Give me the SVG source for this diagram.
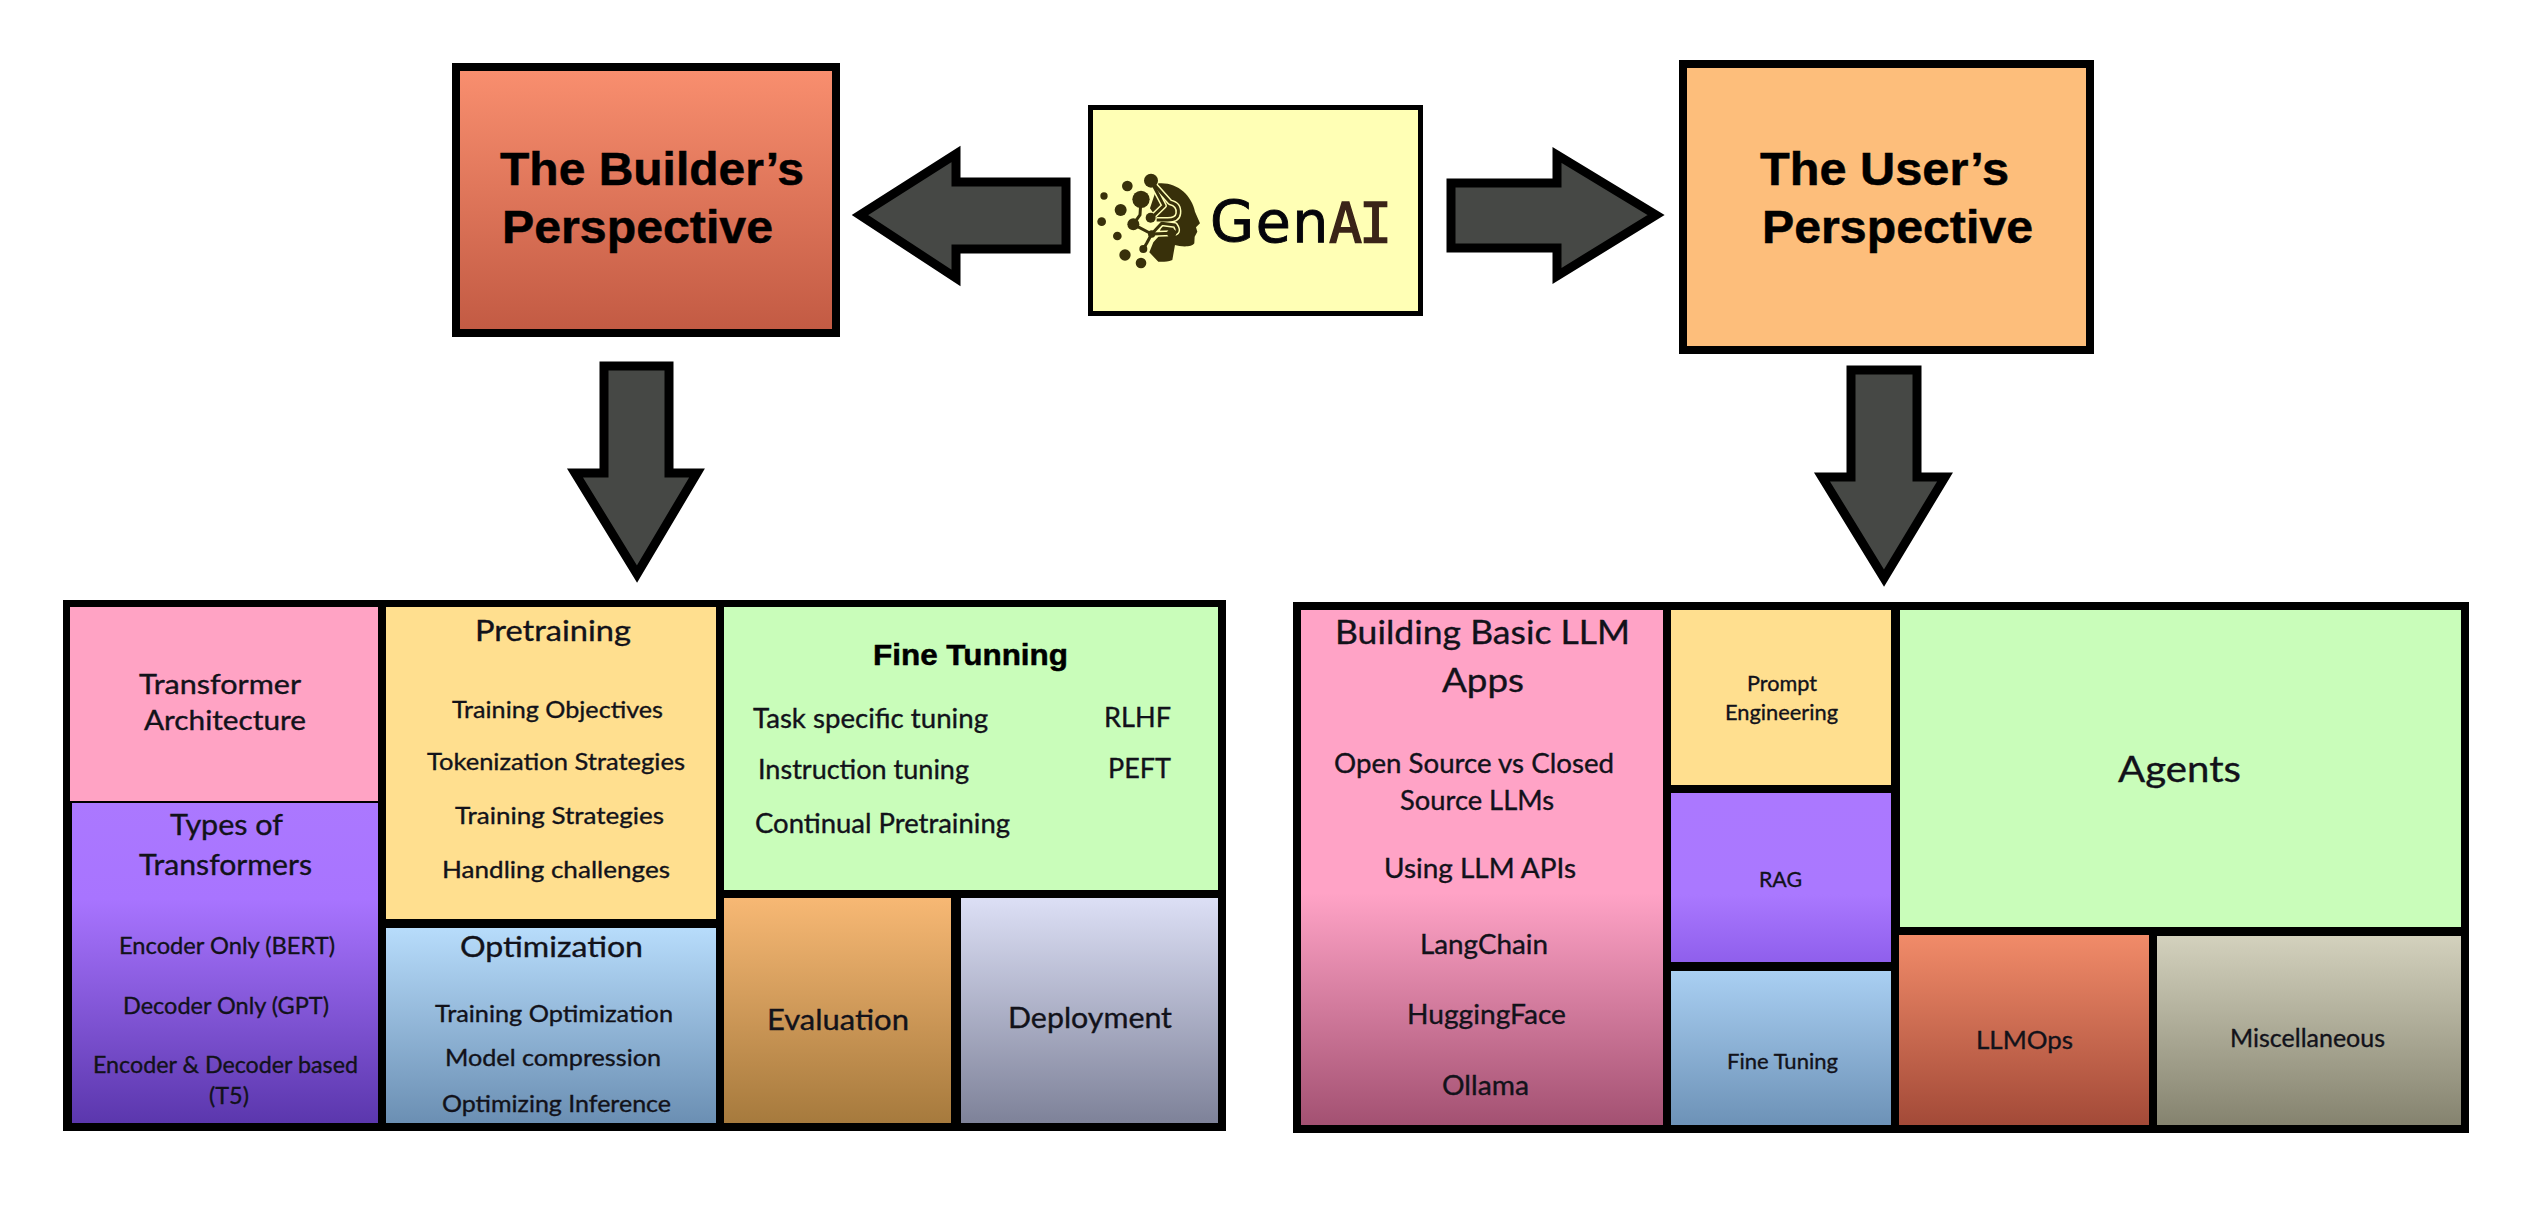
<svg xmlns="http://www.w3.org/2000/svg" width="2535" height="1205" viewBox="0 0 2535 1205">
<style>
text{font-family:"Lato","Noto Sans","Liberation Sans",sans-serif;fill:#12121a;stroke:#12121a;stroke-width:.35}
.b{font-family:"Liberation Sans","Arial",sans-serif;font-weight:700;fill:#000;stroke:#000;stroke-width:.5}
.t{font-size:47px}
.ar{fill:#464845;stroke:#000;stroke-width:9;stroke-linejoin:miter;stroke-miterlimit:4}
.s21{font-size:21px}.s23{font-size:23px}.s24{font-size:24px}.s25{font-size:25px}.s26{font-size:26px}.s27{font-size:27px}.s28{font-size:28px}.s33{font-size:33px}.s36{font-size:36px}
</style>
<defs>
<linearGradient id="gBuilder" x1="0" y1="0" x2="0" y2="1"><stop offset="0" stop-color="#f98f6f"/><stop offset="1" stop-color="#c25a43"/></linearGradient>
<linearGradient id="gTypes" x1="0" y1="0" x2="0" y2="1"><stop offset="0" stop-color="#ab78ff"/><stop offset=".3" stop-color="#a874ff"/><stop offset="1" stop-color="#5b37ad"/></linearGradient>
<linearGradient id="gOpt" x1="0" y1="0" x2="0" y2="1"><stop offset="0" stop-color="#b7dcfb"/><stop offset="1" stop-color="#6b8fb3"/></linearGradient>
<linearGradient id="gEval" x1="0" y1="0" x2="0" y2="1"><stop offset="0" stop-color="#f7b874"/><stop offset="1" stop-color="#a67a3d"/></linearGradient>
<linearGradient id="gDep" x1="0" y1="0" x2="0" y2="1"><stop offset="0" stop-color="#dcdff5"/><stop offset="1" stop-color="#7e8299"/></linearGradient>
<linearGradient id="gBuild" x1="0" y1="0" x2="0" y2="1"><stop offset="0" stop-color="#ffa3c6"/><stop offset=".55" stop-color="#ffa3c6"/><stop offset="1" stop-color="#a35172"/></linearGradient>
<linearGradient id="gRag" x1="0" y1="0" x2="0" y2="1"><stop offset="0" stop-color="#ab78ff"/><stop offset=".6" stop-color="#aa78ff"/><stop offset="1" stop-color="#8f5fec"/></linearGradient>
<linearGradient id="gFine" x1="0" y1="0" x2="0" y2="1"><stop offset="0" stop-color="#a9cff2"/><stop offset="1" stop-color="#6d92b7"/></linearGradient>
<linearGradient id="gOps" x1="0" y1="0" x2="0" y2="1"><stop offset="0" stop-color="#f18b69"/><stop offset="1" stop-color="#a34a38"/></linearGradient>
<linearGradient id="gMisc" x1="0" y1="0" x2="0" y2="1"><stop offset="0" stop-color="#d3d1bd"/><stop offset="1" stop-color="#85836f"/></linearGradient>
</defs>
<rect width="2535" height="1205" fill="#fff"/>

<g id="connectors">
<polygon class="ar" points="1066,182 956,182 956,154 860,215 956,278 956,249 1066,249"/>
<polygon class="ar" points="1451,183 1557,183 1557,155 1656,215 1557,276 1557,248 1451,248"/>
<polygon class="ar" points="604,366 669,366 669,473 697,473 637,574 575,473 604,473"/>
<polygon class="ar" points="1851,370 1917,370 1917,477 1945,477 1884,578 1822,477 1851,477"/>
</g>

<g id="builder">
<rect x="456" y="67" width="380" height="266" fill="url(#gBuilder)" stroke="#000" stroke-width="8"/>
<text class="b t" x="500" y="185" textLength="304" lengthAdjust="spacingAndGlyphs">The Builder’s</text>
<text class="b t" x="502" y="243" textLength="271" lengthAdjust="spacingAndGlyphs">Perspective</text>
</g>

<g id="genai">
<rect x="1090.500" y="107.500" width="330" height="206" fill="#ffffb5" stroke="#000" stroke-width="5"/>
<g transform="translate(1090 165) scale(.3333)">
<path fill="#38300a" d="M205,55C260,50 305,90 315,140L330,175L318,187L322,200L314,215L313,235C305,248 270,245 255,240L247,285C230,292 210,290 205,290L178,262L190,232L205,215L215,180L180,130Z"/>
<g fill="none" stroke="#ffffb5" stroke-width="18" stroke-linejoin="round">
<path d="M183,48L240,112Q268,118 265,145Q262,168 225,165L200,165"/>
<path d="M183,48L222,122L185,158"/>
<path d="M130,178L185,207L245,205"/>
<path d="M185,207L215,175L255,180Q272,205 245,205"/>
</g>
<g fill="none" stroke="#38300a" stroke-width="9" stroke-linejoin="round">
<path d="M183,48L240,112Q268,118 265,145Q262,168 225,165L200,165"/>
<path d="M183,48L222,122L185,158"/>
<path d="M153,103L150,150L130,178L185,207L245,205"/>
<path d="M185,207L170,235L160,252"/>
<path d="M185,207L215,175L255,180Q272,205 245,205"/>
</g>
<g fill="#38300a">
<circle cx="183" cy="47" r="21"/><circle cx="112" cy="63" r="16"/><circle cx="42" cy="93" r="11"/><circle cx="153" cy="103" r="26"/><circle cx="92" cy="135" r="18"/><circle cx="35" cy="170" r="13"/><circle cx="130" cy="178" r="18"/><circle cx="82" cy="213" r="13"/><circle cx="105" cy="270" r="17"/><circle cx="153" cy="294" r="16"/><circle cx="160" cy="252" r="12"/><circle cx="182" cy="158" r="15"/><circle cx="245" cy="205" r="14"/><circle cx="185" cy="207" r="11"/>
</g>
</g>
<text x="1210" y="242" font-size="57" letter-spacing="1.500" style="font-family:'DejaVu Sans','Liberation Sans',sans-serif;fill:#05050a;stroke:#05050a;stroke-width:.9">Gen<tspan x="1329" style="font-family:'DejaVu Sans Mono','Liberation Mono',monospace;fill:#3a2418;stroke:#3a2418;stroke-width:1.4" font-size="55" letter-spacing="-3">AI</tspan></text>
</g>

<g id="user">
<rect x="1683" y="64" width="407" height="286" fill="#fdbe7b" stroke="#000" stroke-width="8"/>
<text class="b t" x="1760" y="185" textLength="249" lengthAdjust="spacingAndGlyphs">The User’s</text>
<text class="b t" x="1762" y="243" textLength="271" lengthAdjust="spacingAndGlyphs">Perspective</text>
</g>

<g transform="translate(0 -1)">
<rect id="builder-panel" x="63" y="601" width="1163" height="531" fill="#000"/>
<rect id="user-panel" x="1293" y="603" width="1176" height="531" fill="#000"/>

<g id="transformer-architecture">
<rect x="70" y="608" width="308" height="194" fill="#ffa3c4"/>
<text class="s26" x="139" y="695" textLength="162" lengthAdjust="spacingAndGlyphs">Transformer</text>
<text class="s26" x="144" y="731" textLength="162" lengthAdjust="spacingAndGlyphs">Architecture</text>
</g>
<g id="types-of-transformers">
<rect x="72" y="804" width="306" height="320" fill="url(#gTypes)"/>
<text class="s28" x="170" y="836" textLength="113" lengthAdjust="spacingAndGlyphs">Types of</text>
<text class="s28" x="139" y="876" textLength="173" lengthAdjust="spacingAndGlyphs">Transformers</text>
<text class="s24" x="119" y="955" textLength="216" lengthAdjust="spacingAndGlyphs">Encoder Only (BERT)</text>
<text class="s24" x="123" y="1015" textLength="206" lengthAdjust="spacingAndGlyphs">Decoder Only (GPT)</text>
<text class="s24" x="93" y="1074" textLength="265" lengthAdjust="spacingAndGlyphs">Encoder &amp; Decoder based</text>
<text class="s24" x="209" y="1105" textLength="40" lengthAdjust="spacingAndGlyphs">(T5)</text>
</g>
<g id="pretraining">
<rect x="386" y="608" width="330" height="312" fill="#ffdf8f"/>
<text class="s28" x="475" y="642" textLength="156" lengthAdjust="spacingAndGlyphs">Pretraining</text>
<text class="s24" x="452" y="719" textLength="211" lengthAdjust="spacingAndGlyphs">Training Objectives</text>
<text class="s24" x="427" y="771" textLength="258" lengthAdjust="spacingAndGlyphs">Tokenization Strategies</text>
<text class="s24" x="455" y="825" textLength="209" lengthAdjust="spacingAndGlyphs">Training Strategies</text>
<text class="s24" x="442" y="879" textLength="228" lengthAdjust="spacingAndGlyphs">Handling challenges</text>
</g>
<g id="optimization">
<rect x="386" y="929" width="330" height="195" fill="url(#gOpt)"/>
<text class="s28" x="460" y="958" textLength="183" lengthAdjust="spacingAndGlyphs">Optimization</text>
<text class="s23" x="435" y="1023" textLength="238" lengthAdjust="spacingAndGlyphs">Training Optimization</text>
<text class="s23" x="445" y="1067" textLength="216" lengthAdjust="spacingAndGlyphs">Model compression</text>
<text class="s23" x="442" y="1113" textLength="229" lengthAdjust="spacingAndGlyphs">Optimizing Inference</text>
</g>
<g id="fine-tunning">
<rect x="724" y="608" width="494" height="283" fill="#c9fdba"/>
<text class="b" x="873" y="666" font-size="30" textLength="195" lengthAdjust="spacingAndGlyphs">Fine Tunning</text>
<text class="s26" x="753" y="729" textLength="235" lengthAdjust="spacingAndGlyphs">Task specific tuning</text>
<text class="s26" x="1104" y="728" textLength="67" lengthAdjust="spacingAndGlyphs">RLHF</text>
<text class="s26" x="758" y="780" textLength="211" lengthAdjust="spacingAndGlyphs">Instruction tuning</text>
<text class="s26" x="1108" y="779" textLength="63" lengthAdjust="spacingAndGlyphs">PEFT</text>
<text class="s26" x="755" y="834" textLength="255" lengthAdjust="spacingAndGlyphs">Continual Pretraining</text>
</g>
<g id="evaluation">
<rect x="724" y="899" width="227" height="225" fill="url(#gEval)"/>
<text class="s28" x="767" y="1031" textLength="142" lengthAdjust="spacingAndGlyphs">Evaluation</text>
</g>
<g id="deployment">
<rect x="961" y="899" width="257" height="225" fill="url(#gDep)"/>
<text class="s28" x="1008" y="1029" textLength="164" lengthAdjust="spacingAndGlyphs">Deployment</text>
</g>

<g id="building-basic-llm-apps">
<rect x="1301" y="611" width="362" height="515" fill="url(#gBuild)"/>
<text class="s33" x="1335" y="645" textLength="295" lengthAdjust="spacingAndGlyphs">Building Basic LLM</text>
<text class="s33" x="1442" y="693" textLength="82" lengthAdjust="spacingAndGlyphs">Apps</text>
<text class="s27" x="1334" y="774" textLength="280" lengthAdjust="spacingAndGlyphs">Open Source vs Closed</text>
<text class="s27" x="1400" y="811" textLength="154" lengthAdjust="spacingAndGlyphs">Source LLMs</text>
<text class="s27" x="1384" y="879" textLength="192" lengthAdjust="spacingAndGlyphs">Using LLM APIs</text>
<text class="s27" x="1420" y="955" textLength="128" lengthAdjust="spacingAndGlyphs">LangChain</text>
<text class="s27" x="1407" y="1025" textLength="159" lengthAdjust="spacingAndGlyphs">HuggingFace</text>
<text class="s27" x="1442" y="1096" textLength="87" lengthAdjust="spacingAndGlyphs">Ollama</text>
</g>
<g id="prompt-engineering">
<rect x="1671" y="611" width="220" height="175" fill="#ffdf8f"/>
<text class="s21" x="1747" y="692" textLength="70" lengthAdjust="spacingAndGlyphs">Prompt</text>
<text class="s21" x="1725" y="721" textLength="113" lengthAdjust="spacingAndGlyphs">Engineering</text>
</g>
<g id="rag">
<rect x="1671" y="794" width="220" height="169" fill="url(#gRag)"/>
<text class="s21" x="1759" y="888" textLength="43" lengthAdjust="spacingAndGlyphs">RAG</text>
</g>
<g id="fine-tuning">
<rect x="1671" y="972" width="220" height="154" fill="url(#gFine)"/>
<text class="s21" x="1727" y="1070" textLength="111" lengthAdjust="spacingAndGlyphs">Fine Tuning</text>
</g>
<g id="agents">
<rect x="1900" y="611" width="561" height="317" fill="#c9fdba"/>
<text class="s36" x="2118" y="783" textLength="123" lengthAdjust="spacingAndGlyphs">Agents</text>
</g>
<g id="llmops">
<rect x="1899" y="936" width="250" height="190" fill="url(#gOps)"/>
<text class="s25" x="1976" y="1050" textLength="97" lengthAdjust="spacingAndGlyphs">LLMOps</text>
</g>
<g id="miscellaneous">
<rect x="2157" y="937" width="304" height="189" fill="url(#gMisc)"/>
<text class="s25" x="2230" y="1048" textLength="155" lengthAdjust="spacingAndGlyphs">Miscellaneous</text>
</g>
</g>
</svg>
